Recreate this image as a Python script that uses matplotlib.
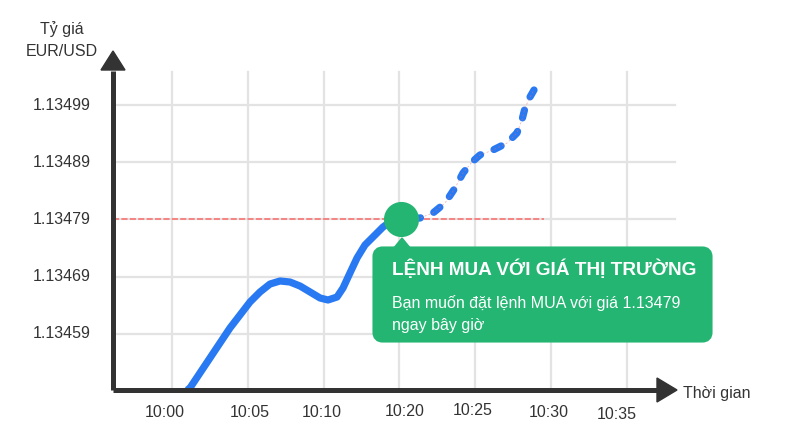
import matplotlib
matplotlib.use("Agg")
import matplotlib.pyplot as plt
from matplotlib.patches import Polygon, FancyBboxPatch

plt.rcParams['font.family'] = ['Liberation Sans', 'DejaVu Sans']

# --- data -------------------------------------------------------------
# x is the index of the time grid line (0 = 10:00 ... 6 = 10:35)
time_labels = ['10:00', '10:05', '10:10', '10:20', '10:25', '10:30', '10:35']
price_ticks = [1.13499, 1.13489, 1.13479, 1.13469, 1.13459]
price_labels = ['1.13499', '1.13489', '1.13479', '1.13469', '1.13459']

# past price path (solid)
past_x = [0.20, 0.237, 0.369, 0.501, 0.633, 0.765, 0.897, 1.029, 1.161,
          1.293, 1.425, 1.557, 1.689, 1.821, 1.953, 2.058, 2.177, 2.256,
          2.348, 2.441, 2.546, 2.678, 2.784, 2.876, 3.008]
past_y = [1.134492, 1.1344957, 1.1345219, 1.1345481, 1.1345743, 1.1346005,
          1.1346232, 1.1346459, 1.1346634, 1.1346773, 1.1346826, 1.1346808,
          1.1346738, 1.1346634, 1.1346529, 1.1346494, 1.1346546, 1.1346703,
          1.1346966, 1.1347228, 1.1347455, 1.1347629, 1.1347769, 1.1347856,
          1.13479]

# expected price path (dashed)
future_x = [3.008, 3.272, 3.443, 3.602, 3.734, 3.839, 3.958, 4.063, 4.235,
            4.420, 4.551, 4.617, 4.657, 4.723, 4.776]
future_y = [1.13479, 1.1347926, 1.1348014, 1.1348188, 1.134845, 1.1348712,
            1.1348904, 1.1349027, 1.1349114, 1.1349236, 1.1349411,
            1.1349638, 1.1349848, 1.135004, 1.1350162]

order_price = 1.13479
order_x = 3.02

# --- figure -----------------------------------------------------------
W, H = 785, 436
fig = plt.figure(figsize=(W / 100, H / 100), dpi=100)
ax = fig.add_axes([0, 0, 1, 1])
ax.set_xlim(-2.2691, 8.0871)
ax.set_ylim(1.13441183, 1.13517341)
ax.axis('off')


def px(x, y):
    """pixel (top-left origin) -> figure fraction"""
    return x / W, 1 - y / H


dark = '#333333'
blue = '#2979f2'
green = '#25b573'
grid_c = '#e3e3e3'

x_left, x_right = -0.778, 6.64
y_bottom, y_top = 1.134492, 1.1350476

# grid
for i in range(len(time_labels)):
    ax.plot([i, i], [y_bottom, y_top], color=grid_c, lw=1.6, zorder=1)
for p in price_ticks:
    ax.plot([x_left, x_right], [p, p], color=grid_c, lw=1.6, zorder=1)

# order price reference line
ax.plot([x_left, 4.91], [order_price, order_price], color='#ff5555', lw=1.1,
        ls=(0, (4, 1.5)), alpha=0.85, zorder=2)

# price paths
ax.plot(past_x, past_y, color=blue, lw=5.2, solid_capstyle='butt',
        solid_joinstyle='round', zorder=3)
# drawn from the tip backwards so the pattern starts with a dash at the end
ax.plot(future_x[::-1], future_y[::-1], color=blue, lw=5.2,
        ls=(0, (1.1, 2.0)), dash_capstyle='round', dash_joinstyle='round',
        zorder=3)
ax.plot(future_x, future_y, color='#f26d6d', lw=0.5, ls=(0, (3, 3)),
        alpha=0.6, zorder=3)

# axes with arrows
ax.plot([x_left, x_left], [y_bottom, 1.13505], color=dark, lw=3.6,
        solid_capstyle='butt', zorder=4)
ax.plot([x_left, 6.40], [y_bottom, y_bottom], color=dark, lw=3.6,
        solid_capstyle='butt', zorder=4)
fig.patches.append(Polygon([px(101, 70), px(125, 70), px(113, 51)],
                           closed=True, transform=fig.transFigure,
                           color=dark, zorder=5))
fig.patches.append(Polygon([px(657, 378), px(657, 402), px(677, 390)],
                           closed=True, transform=fig.transFigure,
                           color=dark, zorder=5))

# tick labels
label_px = [(165, 412), (250, 412), (322, 412), (405, 411), (473, 410),
            (549, 412), (617, 414)]
for lab, (lx, ly) in zip(time_labels, label_px):
    fig.text(*px(lx, ly), lab, ha='center', va='center', fontsize=11.5,
             color=dark)
for lab, p in zip(price_labels, price_ticks):
    ax.text(-1.45, p, lab, ha='center', va='center', fontsize=11.5,
            color=dark)

fig.text(*px(62, 29), 'Tỷ giá', ha='center', va='center', fontsize=11.5,
         color=dark)
fig.text(*px(62, 51), 'EUR/USD', ha='center', va='center', fontsize=11.5,
         color=dark)
fig.text(*px(683, 393), 'Thời gian', ha='left', va='center', fontsize=11.5,
         color=dark)

# order marker
ax.scatter([order_x], [order_price], s=640, color=green, zorder=6,
           linewidths=0)

# tooltip
bx0, by0, bx1, by1 = 374, 248, 711, 341
fig.patches.append(FancyBboxPatch(px(bx0 + 4, by1 - 4),
                                  (bx1 - bx0 - 8) / W, (by1 - by0 - 8) / H,
                                  boxstyle='round,pad=0.0,rounding_size=0.006',
                                  mutation_aspect=W / H,
                                  transform=fig.transFigure, fc=green,
                                  ec=green, lw=8, zorder=7))
fig.patches.append(Polygon([px(393, 249), px(411, 249), px(402, 238)],
                           closed=True, transform=fig.transFigure,
                           color=green, zorder=7))
fig.text(*px(392, 269), 'LỆNH MUA VỚI GIÁ THỊ TRƯỜNG', ha='left',
         va='center', fontsize=13.7, fontweight='bold', color='white',
         zorder=8)
fig.text(*px(392, 303), 'Bạn muốn đặt lệnh MUA với giá 1.13479', ha='left',
         va='center', fontsize=11.5, color='white', zorder=8)
fig.text(*px(392, 325), 'ngay bây giờ', ha='left', va='center',
         fontsize=11.5, color='white', zorder=8)

fig.savefig('out.png', dpi=100)
